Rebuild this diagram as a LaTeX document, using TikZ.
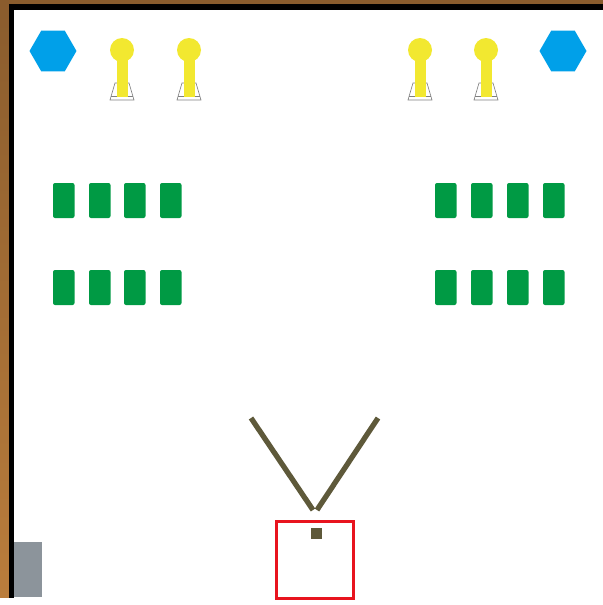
\documentclass[tikz,border=0pt]{standalone}
\usetikzlibrary{shapes.geometric}
\definecolor{browntop}{RGB}{138,92,45}
\definecolor{brownbot}{RGB}{186,125,60}
\definecolor{hexblue}{RGB}{0,160,233}
\definecolor{pinyellow}{RGB}{242,232,48}
\definecolor{seatgreen}{RGB}{0,154,68}
\definecolor{olive}{RGB}{94,89,58}
\definecolor{boxred}{RGB}{232,20,30}
\definecolor{slate}{RGB}{140,148,155}
\begin{document}
\begin{tikzpicture}[x=0.05cm, y=-0.05cm,
    hexa/.style={regular polygon, regular polygon sides=6, fill=hexblue, inner sep=0pt, minimum size=2.35cm},
    seat/.style={fill=seatgreen, rounded corners=0.1cm},
    vline/.style={olive, line width=7.5pt},
    base/.style={gray, line width=0.9pt}]
    \useasboundingbox (0,0) rectangle (603,605);
    \shade[top color=browntop, bottom color=brownbot] (0,0) rectangle (603,598);
    \fill[black] (9,4) rectangle (603,598);
    \fill[white] (14,10) rectangle (603,605);
    \fill[white] (0,598) rectangle (603,605);
    \node[hexa] (hexL) at (53,51) {};
    \node[hexa] (hexR) at (563,51) {};
    \foreach \x in {122,189,420,486} {
        \draw[base] (\x-7,83) -- (\x+7,83) -- (\x+12,100) -- (\x-12,100) -- cycle;
        \draw[base] (\x-11,96) -- (\x+11,96);
        \fill[pinyellow] (\x-5.5,55) rectangle (\x+5.5,97);
        \fill[pinyellow] (\x,50) circle (0.6cm);
    }
    \foreach \r in {183,270}
        \foreach \c in {53,89,124,160,435,471,507,543}
            \fill[seat] (\c,\r) rectangle ++(21.5,35);
    \draw[vline] (251,418) -- (313,510);
    \draw[vline] (378,418) -- (317,510);
    \fill[olive] (311,528) rectangle (322,539);
    \draw[boxred, line width=4.3pt] (276.5,521.5) rectangle (353.5,598.5);
    \fill[slate] (14,542) rectangle (42,597);
\end{tikzpicture}
\end{document}
